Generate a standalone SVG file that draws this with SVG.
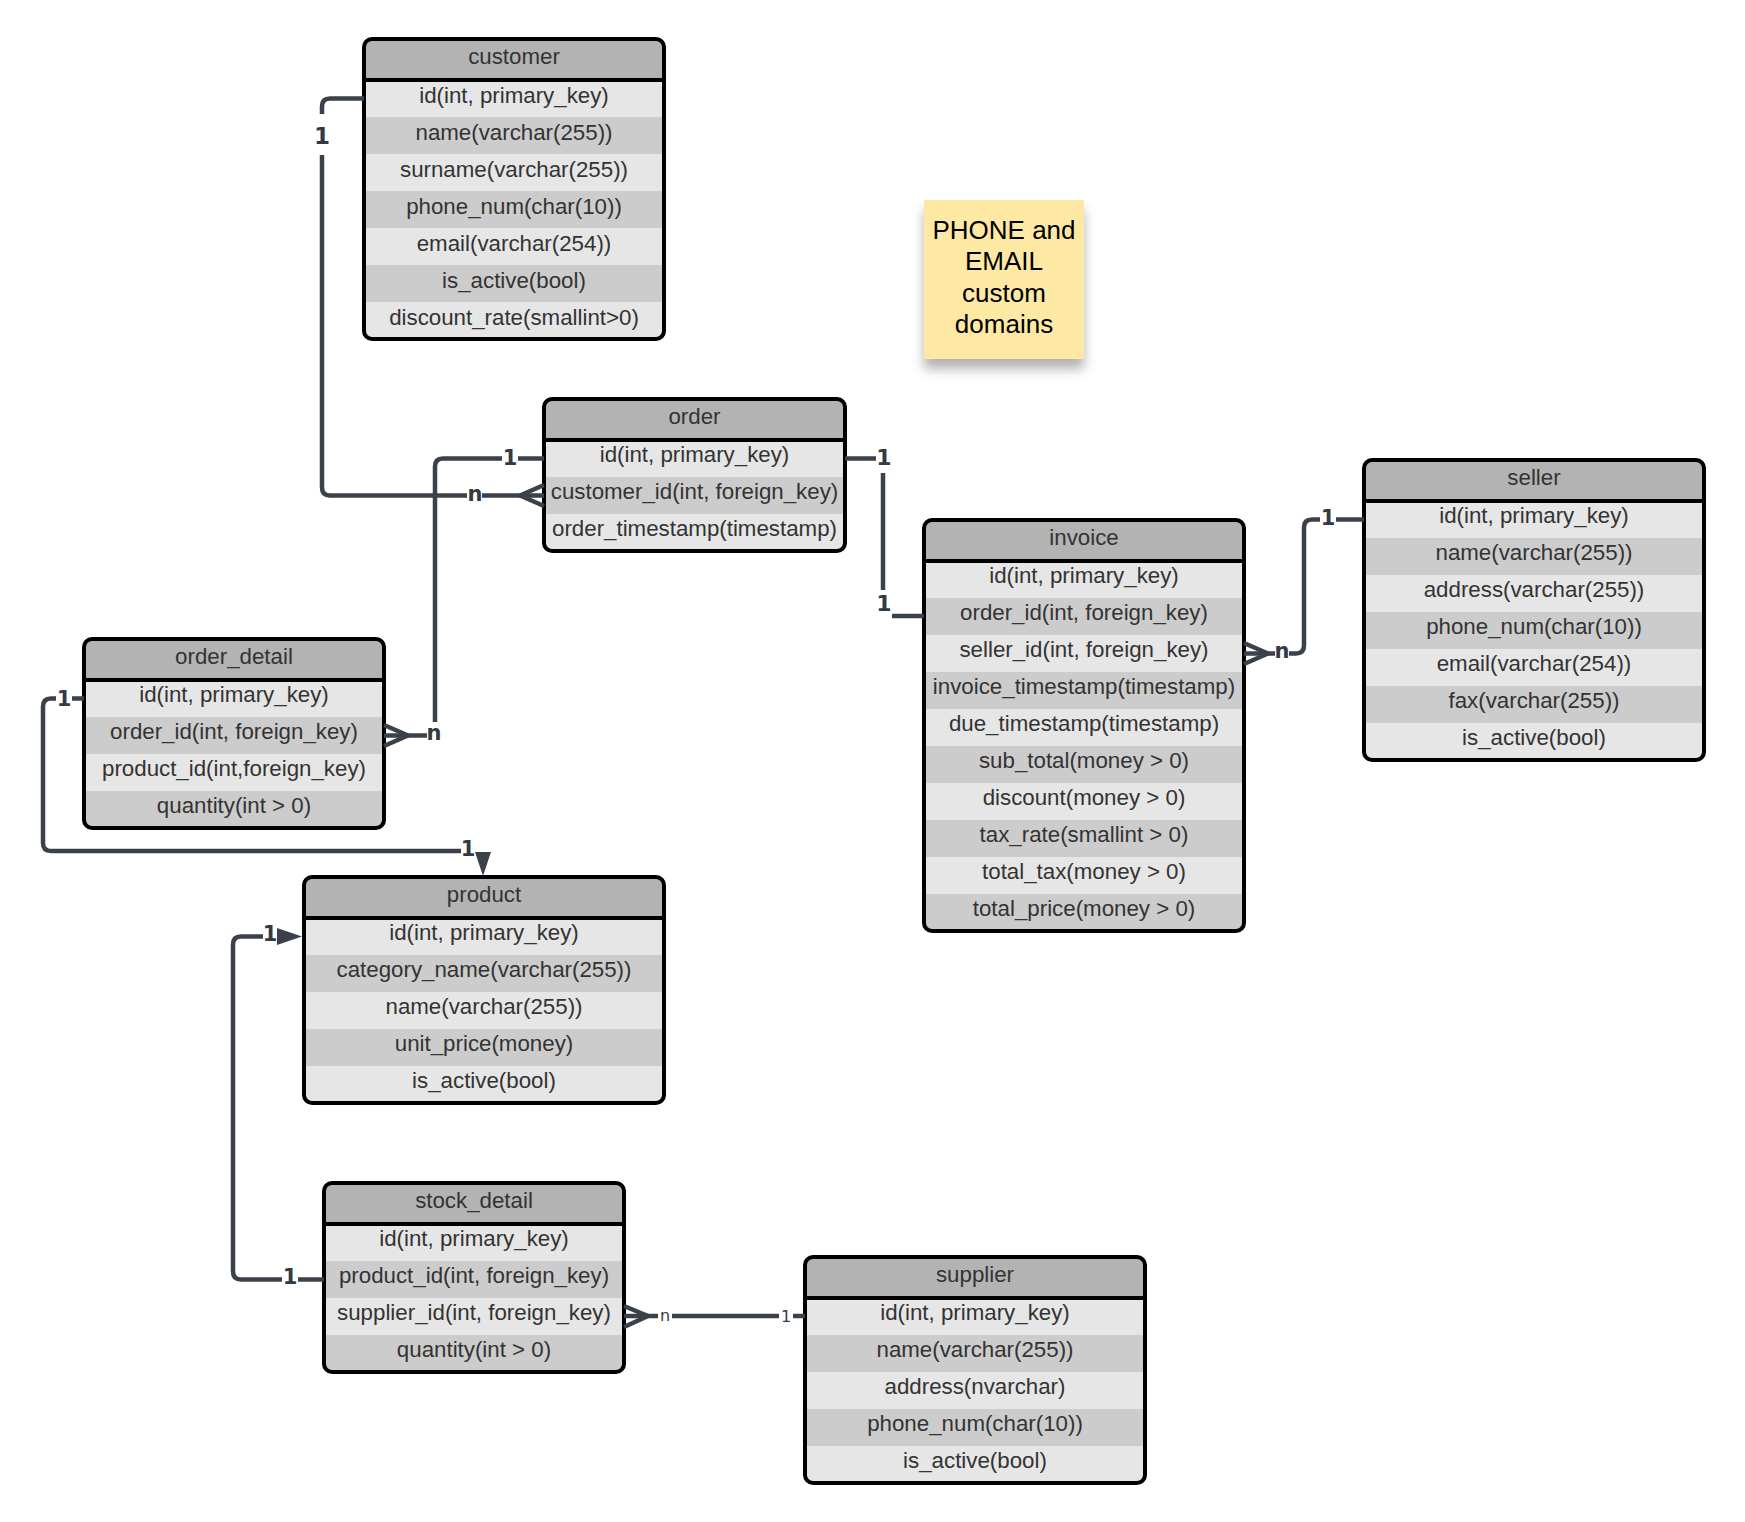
<svg xmlns="http://www.w3.org/2000/svg" width="1745" height="1522" viewBox="0 0 1745 1522">
<style>
.hdr{fill:#b3b3b3}
.r1{fill:#e6e6e6}
.r2{fill:#cccccc}
.frame{fill:none;stroke:#000;stroke-width:4}
.sep{stroke:#000;stroke-width:4}
.t{font-family:"Liberation Sans",Arial,sans-serif;font-size:22.3px;fill:#333;text-anchor:middle}
.c{fill:none;stroke:#3b414b;stroke-width:4.5;stroke-linejoin:round}
.lb{font-family:"DejaVu Sans","Liberation Sans",sans-serif;font-weight:bold;font-size:21px;fill:#333a44;text-anchor:middle}
.lr{font-family:"DejaVu Sans","Liberation Sans",sans-serif;font-weight:bold;font-size:22px;fill:#333a44;text-anchor:middle}
.ls{font-family:"DejaVu Sans","Liberation Sans",sans-serif;font-size:16px;fill:#333a44;text-anchor:middle}
.ah{fill:#3b414b}
.note{font-family:"Liberation Sans",Arial,sans-serif;font-size:26px;fill:#000;text-anchor:middle}
</style>
<defs>
<clipPath id="cp-customer"><rect x="364" y="39" width="300" height="300" rx="8"/></clipPath>
<clipPath id="cp-order"><rect x="544" y="399" width="301" height="152" rx="8"/></clipPath>
<clipPath id="cp-order_detail"><rect x="84" y="639" width="300" height="189" rx="8"/></clipPath>
<clipPath id="cp-invoice"><rect x="924" y="520" width="320" height="411" rx="8"/></clipPath>
<clipPath id="cp-seller"><rect x="1364" y="460" width="340" height="300" rx="8"/></clipPath>
<clipPath id="cp-product"><rect x="304" y="877" width="360" height="226" rx="8"/></clipPath>
<clipPath id="cp-stock_detail"><rect x="324" y="1183" width="300" height="189" rx="8"/></clipPath>
<clipPath id="cp-supplier"><rect x="805" y="1257" width="340" height="226" rx="8"/></clipPath>
<filter id="shadow" x="-20%" y="-20%" width="140%" height="150%">
<feDropShadow dx="0" dy="10" stdDeviation="6" flood-color="#000" flood-opacity="0.3"/>
</filter>
</defs>
<rect x="0" y="0" width="1745" height="1522" fill="#fff"/>

<g id="note">
<rect x="924" y="200" width="160" height="159" fill="#fee9a4" filter="url(#shadow)"/>
<text class="note" x="1004" y="238.5">PHONE and</text>
<text class="note" x="1004" y="270">EMAIL</text>
<text class="note" x="1004" y="301.5">custom</text>
<text class="note" x="1004" y="333">domains</text>
</g>

<g id="customer">
<g clip-path="url(#cp-customer)">
<rect class="hdr" x="364" y="39" width="300" height="41"/>
<rect class="r1" x="364" y="80" width="300" height="37"/>
<rect class="r2" x="364" y="117" width="300" height="37"/>
<rect class="r1" x="364" y="154" width="300" height="37"/>
<rect class="r2" x="364" y="191" width="300" height="37"/>
<rect class="r1" x="364" y="228" width="300" height="37"/>
<rect class="r2" x="364" y="265" width="300" height="37"/>
<rect class="r1" x="364" y="302" width="300" height="37"/>
</g>
<line class="sep" x1="364" y1="80" x2="664" y2="80"/>
<rect class="frame" x="364" y="39" width="300" height="300" rx="8"/>
<text class="t" x="514" y="64">customer</text>
<text class="t" x="514" y="102.5">id(int, primary_key)</text>
<text class="t" x="514" y="139.5">name(varchar(255))</text>
<text class="t" x="514" y="176.5">surname(varchar(255))</text>
<text class="t" x="514" y="213.5">phone_num(char(10))</text>
<text class="t" x="514" y="250.5">email(varchar(254))</text>
<text class="t" x="514" y="287.5">is_active(bool)</text>
<text class="t" x="514" y="324.5">discount_rate(smallint&gt;0)</text>
</g>

<g id="order">
<g clip-path="url(#cp-order)">
<rect class="hdr" x="544" y="399" width="301" height="41"/>
<rect class="r1" x="544" y="440" width="301" height="37"/>
<rect class="r2" x="544" y="477" width="301" height="37"/>
<rect class="r1" x="544" y="514" width="301" height="37"/>
</g>
<line class="sep" x1="544" y1="440" x2="845" y2="440"/>
<rect class="frame" x="544" y="399" width="301" height="152" rx="8"/>
<text class="t" x="694.5" y="424">order</text>
<text class="t" x="694.5" y="462">id(int, primary_key)</text>
<text class="t" x="694.5" y="499">customer_id(int, foreign_key)</text>
<text class="t" x="694.5" y="536">order_timestamp(timestamp)</text>
</g>

<g id="order_detail">
<g clip-path="url(#cp-order_detail)">
<rect class="hdr" x="84" y="639" width="300" height="41"/>
<rect class="r1" x="84" y="680" width="300" height="37"/>
<rect class="r2" x="84" y="717" width="300" height="37"/>
<rect class="r1" x="84" y="754" width="300" height="37"/>
<rect class="r2" x="84" y="791" width="300" height="37"/>
</g>
<line class="sep" x1="84" y1="680" x2="384" y2="680"/>
<rect class="frame" x="84" y="639" width="300" height="189" rx="8"/>
<text class="t" x="234" y="664">order_detail</text>
<text class="t" x="234" y="702">id(int, primary_key)</text>
<text class="t" x="234" y="739">order_id(int, foreign_key)</text>
<text class="t" x="234" y="776">product_id(int,foreign_key)</text>
<text class="t" x="234" y="813">quantity(int &gt; 0)</text>
</g>

<g id="invoice">
<g clip-path="url(#cp-invoice)">
<rect class="hdr" x="924" y="520" width="320" height="41"/>
<rect class="r1" x="924" y="561" width="320" height="37"/>
<rect class="r2" x="924" y="598" width="320" height="37"/>
<rect class="r1" x="924" y="635" width="320" height="37"/>
<rect class="r2" x="924" y="672" width="320" height="37"/>
<rect class="r1" x="924" y="709" width="320" height="37"/>
<rect class="r2" x="924" y="746" width="320" height="37"/>
<rect class="r1" x="924" y="783" width="320" height="37"/>
<rect class="r2" x="924" y="820" width="320" height="37"/>
<rect class="r1" x="924" y="857" width="320" height="37"/>
<rect class="r2" x="924" y="894" width="320" height="37"/>
</g>
<line class="sep" x1="924" y1="561" x2="1244" y2="561"/>
<rect class="frame" x="924" y="520" width="320" height="411" rx="8"/>
<text class="t" x="1084" y="545">invoice</text>
<text class="t" x="1084" y="583">id(int, primary_key)</text>
<text class="t" x="1084" y="620">order_id(int, foreign_key)</text>
<text class="t" x="1084" y="657">seller_id(int, foreign_key)</text>
<text class="t" x="1084" y="694">invoice_timestamp(timestamp)</text>
<text class="t" x="1084" y="731">due_timestamp(timestamp)</text>
<text class="t" x="1084" y="768">sub_total(money &gt; 0)</text>
<text class="t" x="1084" y="805">discount(money &gt; 0)</text>
<text class="t" x="1084" y="842">tax_rate(smallint &gt; 0)</text>
<text class="t" x="1084" y="879">total_tax(money &gt; 0)</text>
<text class="t" x="1084" y="916">total_price(money &gt; 0)</text>
</g>

<g id="seller">
<g clip-path="url(#cp-seller)">
<rect class="hdr" x="1364" y="460" width="340" height="41"/>
<rect class="r1" x="1364" y="501" width="340" height="37"/>
<rect class="r2" x="1364" y="538" width="340" height="37"/>
<rect class="r1" x="1364" y="575" width="340" height="37"/>
<rect class="r2" x="1364" y="612" width="340" height="37"/>
<rect class="r1" x="1364" y="649" width="340" height="37"/>
<rect class="r2" x="1364" y="686" width="340" height="37"/>
<rect class="r1" x="1364" y="723" width="340" height="37"/>
</g>
<line class="sep" x1="1364" y1="501" x2="1704" y2="501"/>
<rect class="frame" x="1364" y="460" width="340" height="300" rx="8"/>
<text class="t" x="1534" y="485">seller</text>
<text class="t" x="1534" y="522.5">id(int, primary_key)</text>
<text class="t" x="1534" y="559.5">name(varchar(255))</text>
<text class="t" x="1534" y="596.5">address(varchar(255))</text>
<text class="t" x="1534" y="633.5">phone_num(char(10))</text>
<text class="t" x="1534" y="670.5">email(varchar(254))</text>
<text class="t" x="1534" y="707.5">fax(varchar(255))</text>
<text class="t" x="1534" y="744.5">is_active(bool)</text>
</g>

<g id="product">
<g clip-path="url(#cp-product)">
<rect class="hdr" x="304" y="877" width="360" height="41"/>
<rect class="r1" x="304" y="918" width="360" height="37"/>
<rect class="r2" x="304" y="955" width="360" height="37"/>
<rect class="r1" x="304" y="992" width="360" height="37"/>
<rect class="r2" x="304" y="1029" width="360" height="37"/>
<rect class="r1" x="304" y="1066" width="360" height="37"/>
</g>
<line class="sep" x1="304" y1="918" x2="664" y2="918"/>
<rect class="frame" x="304" y="877" width="360" height="226" rx="8"/>
<text class="t" x="484" y="902">product</text>
<text class="t" x="484" y="940">id(int, primary_key)</text>
<text class="t" x="484" y="977">category_name(varchar(255))</text>
<text class="t" x="484" y="1014">name(varchar(255))</text>
<text class="t" x="484" y="1051">unit_price(money)</text>
<text class="t" x="484" y="1088">is_active(bool)</text>
</g>

<g id="stock_detail">
<g clip-path="url(#cp-stock_detail)">
<rect class="hdr" x="324" y="1183" width="300" height="41"/>
<rect class="r1" x="324" y="1224" width="300" height="37"/>
<rect class="r2" x="324" y="1261" width="300" height="37"/>
<rect class="r1" x="324" y="1298" width="300" height="37"/>
<rect class="r2" x="324" y="1335" width="300" height="37"/>
</g>
<line class="sep" x1="324" y1="1224" x2="624" y2="1224"/>
<rect class="frame" x="324" y="1183" width="300" height="189" rx="8"/>
<text class="t" x="474" y="1208">stock_detail</text>
<text class="t" x="474" y="1246">id(int, primary_key)</text>
<text class="t" x="474" y="1283">product_id(int, foreign_key)</text>
<text class="t" x="474" y="1320">supplier_id(int, foreign_key)</text>
<text class="t" x="474" y="1357">quantity(int &gt; 0)</text>
</g>

<g id="supplier">
<g clip-path="url(#cp-supplier)">
<rect class="hdr" x="805" y="1257" width="340" height="41"/>
<rect class="r1" x="805" y="1298" width="340" height="37"/>
<rect class="r2" x="805" y="1335" width="340" height="37"/>
<rect class="r1" x="805" y="1372" width="340" height="37"/>
<rect class="r2" x="805" y="1409" width="340" height="37"/>
<rect class="r1" x="805" y="1446" width="340" height="37"/>
</g>
<line class="sep" x1="805" y1="1298" x2="1145" y2="1298"/>
<rect class="frame" x="805" y="1257" width="340" height="226" rx="8"/>
<text class="t" x="975" y="1282">supplier</text>
<text class="t" x="975" y="1320">id(int, primary_key)</text>
<text class="t" x="975" y="1357">name(varchar(255))</text>
<text class="t" x="975" y="1394">address(nvarchar)</text>
<text class="t" x="975" y="1431">phone_num(char(10))</text>
<text class="t" x="975" y="1468">is_active(bool)</text>
</g>

<g id="connectors">
<!-- customer.id -> order.customer_id -->
<path class="c" d="M364,98.5 H330 Q322,98.5 322,106.5 V114"/>
<path class="c" d="M322,155 V487.5 Q322,495.5 330,495.5 H467"/>
<path class="c" d="M482,495.5 H544"/>
<path class="c" d="M544,485 L520,495.5 L544,506"/>
<text class="lb" x="322" y="144" style="font-size:23px">1</text>
<text class="lb" x="475" y="501">n</text>

<!-- order.id -> order_detail.order_id -->
<path class="c" d="M544,458.5 H518"/>
<path class="c" d="M502,458.5 H443 Q435,458.5 435,466.5 V722"/>
<path class="c" d="M427,735.5 H384"/>
<path class="c" d="M384,725 L408,735.5 L384,746"/>
<text class="lb" x="510" y="465">1</text>
<text class="lb" x="434" y="740">n</text>

<!-- order_detail.id -> product -->
<path class="c" d="M84,698.5 H72"/>
<path class="c" d="M56,698.5 H51 Q43,698.5 43,706.5 V843 Q43,851 51,851 H461"/>
<polygon class="ah" points="475,852 491,852 483,876"/>
<text class="lb" x="64" y="706">1</text>
<text class="lb" x="468" y="856">1</text>

<!-- stock_detail.product_id -> product.id -->
<path class="c" d="M324,1279.5 H298"/>
<path class="c" d="M282,1279.5 H241 Q233,1279.5 233,1271.5 V944.5 Q233,936.5 241,936.5 H263"/>
<polygon class="ah" points="277,928 277,945 302,936.5"/>
<text class="lb" x="290" y="1284">1</text>
<text class="lb" x="270" y="941">1</text>

<!-- order.id -> invoice.order_id -->
<path class="c" d="M845,458.5 H876"/>
<path class="c" d="M883,473 V590"/>
<path class="c" d="M892,616 H924"/>
<text class="lr" x="884" y="465">1</text>
<text class="lr" x="884" y="611">1</text>

<!-- invoice.seller_id -> seller.id -->
<path class="c" d="M1244,643 L1268,653.5 L1244,664"/>
<path class="c" d="M1244,653.5 H1275"/>
<path class="c" d="M1289,653.5 H1296 Q1304,653.5 1304,645.5 V527.5 Q1304,519.5 1312,519.5 H1320"/>
<path class="c" d="M1336,519.5 H1364"/>
<text class="lb" x="1282" y="658">n</text>
<text class="lb" x="1328" y="525">1</text>

<!-- stock_detail.supplier_id -> supplier.id -->
<path class="c" d="M624,1306 L648,1316 L624,1327"/>
<path class="c" d="M624,1316 H658"/>
<path class="c" d="M672,1316 H779"/>
<path class="c" d="M793,1316 H805"/>
<text class="ls" x="665" y="1321">n</text>
<text class="ls" x="786" y="1322">1</text>
</g>
</svg>
